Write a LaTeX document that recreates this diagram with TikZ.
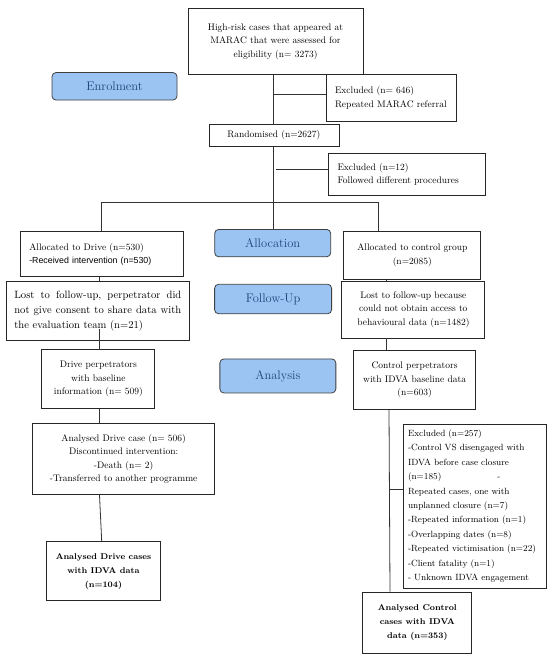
\documentclass[tikz,border=0pt]{standalone}
\usepackage{fontspec}
\newfontfamily\arialf{Liberation Sans}
\definecolor{phaseblue}{RGB}{155,196,242}
\definecolor{phasetext}{RGB}{30,70,120}
\begin{document}
\begin{tikzpicture}[x=1pt,y=-1pt,
  box/.style={draw=black!85, line width=0.8pt, fill=white, inner sep=0pt, align=center,
    font=\fontsize{9.5}{13.5}\selectfont},
  lbox/.style={box, align=left},
  bbox/.style={box, font=\fontsize{8.4}{14}\selectfont\bfseries},
  phase/.style={draw=black!75, fill=phaseblue, rounded corners=4pt, line width=0.8pt,
    text=phasetext, inner sep=0pt, font=\fontsize{12.5}{14}\selectfont},
  link/.style={draw=black!80, line width=0.8pt}]
\useasboundingbox (0,0) rectangle (550,660);

\node[box, minimum width=175pt, minimum height=66pt] (top) at (275.5,41.5)
  {High-risk cases that appeared at\\MARAC that were assessed for\\eligibility (n= 3273)};
\node[phase, minimum width=125pt, minimum height=27.5pt] (enrol) at (114.5,86.3) {Enrolment};
\node[lbox, minimum width=130pt, minimum height=47pt, text width=112pt] (ex1) at (391,97.9)
  {Excluded (n= 646)\\Repeated MARAC referral};
\node[box, minimum width=130pt, minimum height=22pt] (rand) at (273.9,135.2) {Randomised (n=2627)};
\node[lbox, minimum width=157pt, minimum height=42pt, text width=139pt] (ex2) at (407,174.2)
  {Excluded (n=12)\\Followed different procedures};

\node[phase, minimum width=116pt, minimum height=27.4pt] (alloc) at (272.7,243.1) {Allocation};
\node[lbox, minimum width=163pt, minimum height=45pt, text width=145pt] (allocD) at (101.8,254.3)
  {Allocated to Drive (n=530)\\{\arialf\fontsize{8.8}{13.5}\selectfont -Received intervention (n=530)}};
\node[box, minimum width=137pt, minimum height=48pt] (allocC) at (412.3,255.1)
  {Allocated to control group\\(n=2085)};

\node[lbox, minimum width=183pt, minimum height=59pt, text width=167pt,
  font=\fontsize{10.6}{15}\selectfont] (lostD) at (97.85,310.65)
  {\leavevmode\hbox to 167pt{Lost\hfill to\hfill follow-up,\hfill perpetrator\hfill did}\\
   \leavevmode\hbox to 167pt{not\hfill give\hfill consent\hfill to\hfill share\hfill data\hfill with}\\
   the evaluation team (n=21)};
\node[phase, minimum width=117pt, minimum height=29.5pt] (follow) at (273.1,299) {Follow-Up};
\node[box, minimum width=143pt, minimum height=56.5pt] (lostC) at (413.35,309.65)
  {Lost to follow-up because\\could not obtain access to\\behavioural data (n=1482)};

\node[box, minimum width=113pt, minimum height=59pt] (driveP) at (98.35,379.25)
  {Drive perpetrators\\with baseline\\information (n= 509)};
\node[phase, minimum width=116pt, minimum height=34pt] (analysis) at (277.85,375.95) {Analysis};
\node[box, minimum width=122pt, minimum height=59.6pt] (ctrlP) at (414.6,380)
  {Control perpetrators\\with IDVA baseline data\\(n=603)};

\node[box, minimum width=182pt, minimum height=71.5pt] (anDcase) at (123.65,458.75)
  {Analysed Drive case (n= 506)\\Discontinued intervention:\\-Death (n= 2)\\-Transferred to another programme};
\node[lbox, minimum width=143pt, minimum height=164pt, text width=133pt,
  font=\fontsize{9}{14.4}\selectfont] (ex3) at (474.5,506)
  {Excluded (n=257)\\-Control VS disengaged with\\IDVA before case closure\\(n=185)\hspace{56pt}-\\Repeated cases, one with\\unplanned closure (n=7)\\-Repeated information (n=1)\\-Overlapping dates (n=8)\\-Repeated victimisation (n=22)\\-Client fatality (n=1)\\- Unknown IDVA engagement};

\node[bbox, minimum width=114pt, minimum height=59pt] (anD) at (103.45,571.25)
  {Analysed Drive cases\\with IDVA data\\(n=104)};
\node[bbox, minimum width=109pt, minimum height=61pt] (anC) at (417.35,622.5)
  {Analysed Control\\cases with IDVA\\data (n=353)};

% connectors
\coordinate (c1) at (273,94.7);
\coordinate (c2) at (276,169.8);
\coordinate (bl) at (101.7,202);
\coordinate (br) at (378.8,202);
\coordinate (bm) at (273.6,202);
\coordinate (c3) at (389.5,489.3);

\draw[link] (top.south -| c1) -- (rand.north -| c1);
\draw[link] (c1) -- (ex1.west |- c1);
\draw[link] (rand.south -| bm) -- (alloc.north -| bm);
\draw[link] (c2) -- (ex2.west |- c2);
\draw[link] (bl) -- (br);
\draw[link] (bl) -- (allocD.north -| bl);
\draw[link] (br) -- (allocC.north -| br);

\draw[link] (allocD.south -| 98.9,0) -- (lostD.north -| 98.9,0);
\draw[link] ([yshift=12pt]lostD.south -| 98.9,0) -- (driveP.north -| 98.9,0);
\draw[link] (driveP.south -| 98.9,0) -- (anDcase.north -| 98.9,0);
\draw[link] (anDcase.south -| 99.5,0) -- (anD.north -| 101.7,0);

\draw[link] (allocC.south -| 386.5,0) -- (lostC.north -| 386.5,0);
\draw[link] (lostC.south -| 386.5,0) -- (ctrlP.north -| 386.5,0);
\draw[link] (ctrlP.south -| 389,0) -- (anC.north -| 390,0);
\draw[link] (c3) -- (ex3.west |- c3);
\end{tikzpicture}
\end{document}
